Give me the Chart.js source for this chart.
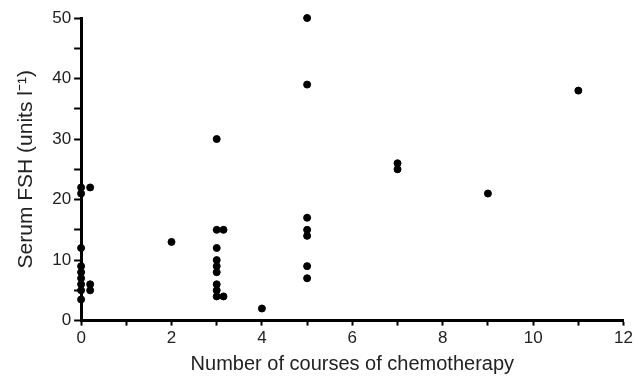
<!DOCTYPE html>
<html>
<head>
<meta charset="utf-8">
<script src="https://cdn.jsdelivr.net/npm/chart.js@4.4.1/dist/chart.umd.min.js"></script>
<style>
    html, body { margin: 0; padding: 0; background: #fff; }
    #wrap { width: 636px; height: 376px; }
</style>
</head>
<body>
<div id="wrap"><canvas id="chart" width="636" height="376"></canvas></div>
<script>
// number of courses (x) and serum FSH (y) for each patient
const courses = [
    0, 0, 0, 0, 0, 0, 0, 0, 0,
    0.2, 0.2, 0.2,
    2,
    3, 3, 3, 3, 3, 3, 3, 3, 3,
    3.15, 3.15,
    4,
    5, 5, 5, 5, 5, 5, 5,
    7, 7,
    9,
    11
];
const fsh = [
    22, 21, 12, 9, 8, 7, 6, 5, 3.5,
    22, 6, 5,
    13,
    30, 15, 12, 10, 9, 8, 6, 5, 4,
    15, 4,
    2,
    50, 39, 17, 15, 14, 9, 7,
    26, 25,
    21,
    38
];
const xLabels = [0, 2, 4, 6, 8, 10, 12];
const yLabels = [0, 10, 20, 30, 40, 50];

const points = courses.map((c, i) => ({ x: c, y: fsh[i] }));
const font = 'Liberation Sans, Arial, Helvetica, sans-serif';

const ctx = document.getElementById('chart').getContext('2d');
new Chart(ctx, {
    type: 'scatter',
    data: {
        datasets: [{
            data: points,
            backgroundColor: '#000',
            borderColor: '#000',
            pointRadius: 3.5,
            pointHoverRadius: 3.5,
            pointStyle: 'circle',
            clip: false
        }]
    },
    options: {
        responsive: false,
        animation: false,
        layout: { padding: { top: 18, right: -4, left: 14, bottom: 0 } },
        plugins: { legend: { display: false }, tooltip: { enabled: false } },
        scales: {
            x: {
                type: 'linear',
                min: 0,
                max: 12,
                border: { display: true, color: '#000', width: 3 },
                grid: { drawOnChartArea: false, drawTicks: true, tickLength: 5, tickColor: '#000', tickWidth: 2 },
                ticks: {
                    stepSize: 1,
                    autoSkip: false,
                    maxRotation: 0,
                    color: '#222',
                    font: { family: font, size: 17 },
                    padding: 3,
                    callback: (v) => xLabels.includes(v) ? String(v) : ''
                },
                title: {
                    display: true,
                    text: 'Number of courses of chemotherapy',
                    color: '#222',
                    font: { family: font, size: 20 },
                    padding: { top: 0, bottom: 0 }
                }
            },
            y: {
                type: 'linear',
                min: 0,
                max: 50,
                border: { display: true, color: '#000', width: 3 },
                grid: { drawOnChartArea: false, drawTicks: true, tickLength: 7, tickColor: '#000', tickWidth: 2 },
                ticks: {
                    stepSize: 5,
                    autoSkip: false,
                    color: '#222',
                    font: { family: font, size: 17 },
                    padding: 3,
                    callback: (v) => yLabels.includes(v) ? String(v) : ''
                },
                title: {
                    display: true,
                    text: 'Serum FSH (units l\u207B\u00B9)',
                    color: '#222',
                    font: { family: font, size: 21 },
                    padding: { top: 0, bottom: 10 }
                }
            }
        }
    }
});
</script>
</body>
</html>
